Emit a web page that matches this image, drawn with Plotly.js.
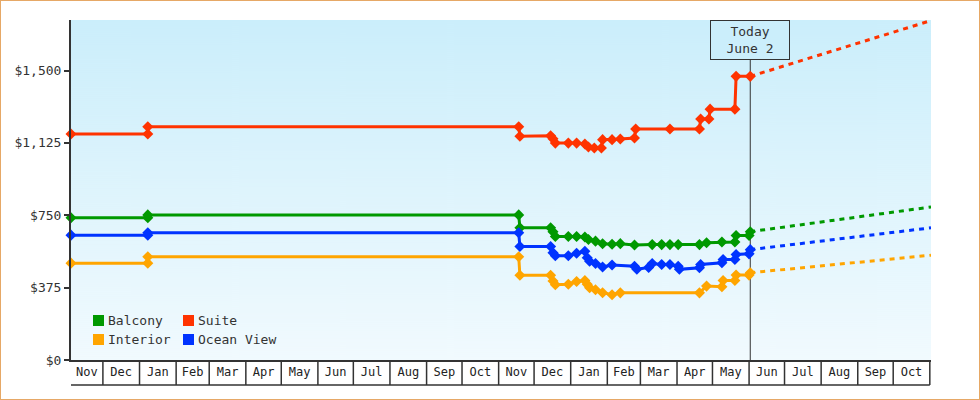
<!DOCTYPE html>
<html><head><meta charset="utf-8">
<script src="https://cdn.plot.ly/plotly-3.0.1.min.js"></script>
<style>
html,body{margin:0;padding:0;background:#fff;}
#chart{width:978px;height:398px;border:1px solid #e6a866;}
</style></head><body>
<div id="chart"></div>
<script>
// ---- data ----
const seriesNames = ['Balcony', 'Suite', 'Interior', 'Ocean View'];
const seriesColors = ['#009900', '#ff3300', '#ffa500', '#0033ff'];

const balconyDates = ['2024-11-04','2025-01-08','2025-01-08','2025-11-18','2025-11-19','2025-12-15','2025-12-17','2025-12-19','2025-12-30','2026-01-06','2026-01-13','2026-01-16','2026-01-22','2026-01-28','2026-02-05','2026-02-12','2026-02-24','2026-03-11','2026-03-19','2026-03-26','2026-04-02','2026-04-20','2026-04-26','2026-05-09','2026-05-20','2026-05-21','2026-06-01','2026-06-02'];
const balconyPrices = [737,737,752,752,685,685,665,640,640,640,637,624,616,602,600,603,596,598,598,598,598,598,608,612,612,645,645,665];

const suiteDates = ['2024-11-04','2025-01-08','2025-01-08','2025-11-18','2025-11-19','2025-12-15','2025-12-17','2025-12-19','2025-12-30','2026-01-06','2026-01-13','2026-01-16','2026-01-21','2026-01-27','2026-01-28','2026-02-05','2026-02-12','2026-02-24','2026-02-25','2026-03-26','2026-04-20','2026-04-21','2026-04-28','2026-04-29','2026-05-20','2026-05-21','2026-06-02'];
const suitePrices = [1171,1171,1209,1209,1160,1162,1147,1124,1124,1124,1119,1104,1099,1099,1142,1142,1145,1150,1197,1197,1197,1249,1249,1300,1300,1470,1470];

const interiorDates = ['2024-11-04','2025-01-08','2025-01-08','2025-11-18','2025-11-19','2025-12-15','2025-12-17','2025-12-19','2025-12-30','2026-01-06','2026-01-13','2026-01-15','2026-01-17','2026-01-22','2026-01-28','2026-02-05','2026-02-12','2026-04-20','2026-04-26','2026-05-09','2026-05-10','2026-05-20','2026-05-21','2026-06-01','2026-06-02'];
const interiorPrices = [502,502,535,535,439,439,409,390,393,407,412,392,375,364,349,338,348,348,383,380,412,412,440,440,452];

const oceanDates = ['2024-11-04','2025-01-08','2025-01-08','2025-11-18','2025-11-19','2025-12-15','2025-12-17','2025-12-19','2025-12-30','2026-01-06','2026-01-13','2026-01-15','2026-01-17','2026-01-22','2026-01-28','2026-02-05','2026-02-24','2026-02-26','2026-03-08','2026-03-11','2026-03-19','2026-03-26','2026-04-02','2026-04-03','2026-04-20','2026-04-21','2026-05-09','2026-05-10','2026-05-20','2026-05-21','2026-06-01','2026-06-02'];
const oceanPrices = [647,647,659,659,588,588,556,540,540,553,564,530,512,500,482,492,486,470,480,500,495,495,486,470,478,495,504,521,521,547,550,572];

const projDates = ['2026-06-02', '2026-11-02'];
const balconyProj = [665, 793];
const suiteProj = [1470, 1759];
const interiorProj = [452, 543];
const oceanProj = [572, 685];

const monthLabels = ['Nov','Dec','Jan','Feb','Mar','Apr','May','Jun','Jul','Aug','Sep','Oct',
                     'Nov','Dec','Jan','Feb','Mar','Apr','May','Jun','Jul','Aug','Sep','Oct'];
const monthStarts = ['2024-12-01','2025-01-01','2025-02-01','2025-03-01','2025-04-01','2025-05-01','2025-06-01','2025-07-01','2025-08-01','2025-09-01','2025-10-01','2025-11-01',
                     '2025-12-01','2026-01-01','2026-02-01','2026-03-01','2026-04-01','2026-05-01','2026-06-01','2026-07-01','2026-08-01','2026-09-01','2026-10-01','2026-11-01'];
const yTickVals = [0, 375, 750, 1125, 1500];
const yTickLabels = ['$0', '$375', '$750', '$1,125', '$1,500'];
const todayDate = '2026-06-02';
const todayText = 'Today<br>June 2';
const xRange = ['2024-11-04', '2026-11-02'];
const yRange = [0, 1762];

// ---- build ----
const FONT = 'DejaVu Sans Mono, monospace';
const INK = '#333333';
function iso(ms){ return new Date(ms).toISOString().slice(0,19).replace('T',' '); }

const cellEdges = [xRange[0]].concat(monthStarts);
const tickVals = [];
for (let i = 0; i < cellEdges.length - 1; i++) {
  tickVals.push(iso((Date.parse(cellEdges[i]) + Date.parse(cellEdges[i+1])) / 2));
}

const series = [
  {name: seriesNames[0], color: seriesColors[0], x: balconyDates, y: balconyPrices, p: balconyProj},
  {name: seriesNames[1], color: seriesColors[1], x: suiteDates, y: suitePrices, p: suiteProj},
  {name: seriesNames[2], color: seriesColors[2], x: interiorDates, y: interiorPrices, p: interiorProj},
  {name: seriesNames[3], color: seriesColors[3], x: oceanDates, y: oceanPrices, p: oceanProj}
];

const traces = [];
series.forEach(s => {
  traces.push({type: 'scatter', mode: 'lines', x: projDates, y: s.p, name: s.name + ' projection',
    line: {color: s.color, width: 3, dash: '5px,5px'}, showlegend: false, hoverinfo: 'skip'});
});
series.forEach(s => {
  traces.push({type: 'scatter', mode: 'lines+markers', x: s.x, y: s.y, name: s.name,
    line: {color: s.color, width: 3}, marker: {symbol: 'diamond', size: 8.5, color: s.color},
    cliponaxis: false, showlegend: false});
});

// background gradient
const cv = document.createElement('canvas');
cv.width = 8; cv.height = 340;
const cx = cv.getContext('2d');
const g = cx.createLinearGradient(0, 0, 0, 340);
g.addColorStop(0, '#cbeefb');
g.addColorStop(1, '#f1fafe');
cx.fillStyle = g; cx.fillRect(0, 0, 8, 340);
const bgUrl = cv.toDataURL('image/png');

const W = 978, H = 398, M = {l: 70, r: 48, t: 19, b: 39};
const PW = W - M.l - M.r, PH = H - M.t - M.b;
const px = v => v / PW;   // plot-relative pixels -> paper
const py = v => v / PH;

const shapes = [];
monthStarts.forEach(d => {
  shapes.push({type: 'line', xref: 'x', yref: 'paper', x0: d, x1: d, y0: 0, y1: -py(25),
    line: {color: INK, width: 1.5}, layer: 'above'});
});
shapes.push({type: 'line', xref: 'x', yref: 'paper', x0: xRange[0], x1: monthStarts[monthStarts.length-1],
  y0: -py(25), y1: -py(25), line: {color: INK, width: 1.5}, layer: 'above'});
shapes.push({type: 'line', xref: 'x', yref: 'paper', x0: todayDate, x1: todayDate, y0: 0, y1: 1,
  line: {color: INK, width: 1}, layer: 'below'});

// legend (2 x 2 grid)
const annotations = [];
const legCols = [22, 112], legRows = [39.5, 20.5];
const legOrder = [[0, 1], [2, 3]];
legOrder.forEach((row, r) => row.forEach((si, c) => {
  shapes.push({type: 'rect', xref: 'paper', yref: 'paper',
    x0: px(legCols[c]), x1: px(legCols[c] + 11), y0: py(legRows[r] - 5.5), y1: py(legRows[r] + 5.5),
    fillcolor: seriesColors[si], line: {width: 0}, layer: 'above'});
  annotations.push({xref: 'paper', yref: 'paper', x: px(legCols[c] + 13), y: py(legRows[r]),
    xanchor: 'left', yanchor: 'middle', text: seriesNames[si], showarrow: false,
    font: {family: FONT, size: 13, color: INK}});
}));

annotations.push({xref: 'x', yref: 'paper', x: todayDate, y: 1, xanchor: 'center', yanchor: 'top',
  text: todayText, showarrow: false, width: 76, height: 36, borderpad: 1, borderwidth: 1,
  bordercolor: INK, bgcolor: '#cbeefb', font: {family: FONT, size: 13, color: INK}});

const layout = {
  width: W, height: H, margin: M,
  paper_bgcolor: '#ffffff', plot_bgcolor: 'rgba(0,0,0,0)',
  font: {family: FONT, size: 13, color: INK},
  showlegend: false,
  xaxis: {type: 'date', range: xRange, tickmode: 'array', tickvals: tickVals, ticktext: monthLabels,
    ticks: '', showgrid: false, zeroline: false, showline: true, linewidth: 2, linecolor: INK,
    tickfont: {family: FONT, size: 12, color: '#222'}, fixedrange: true},
  yaxis: {range: yRange, tickmode: 'array', tickvals: yTickVals, ticktext: yTickLabels,
    ticks: 'outside', ticklen: 5, tickwidth: 2, tickcolor: INK, showgrid: false, zeroline: false,
    showline: true, linewidth: 2, linecolor: INK,
    tickfont: {family: FONT, size: 13, color: INK}, fixedrange: true},
  images: [{source: bgUrl, xref: 'paper', yref: 'paper', x: 0, y: 1, sizex: 1, sizey: 1,
    sizing: 'stretch', xanchor: 'left', yanchor: 'top', layer: 'below'}],
  shapes: shapes,
  annotations: annotations
};

Plotly.newPlot('chart', traces, layout, {staticPlot: true, displayModeBar: false});
</script>
</body></html>
